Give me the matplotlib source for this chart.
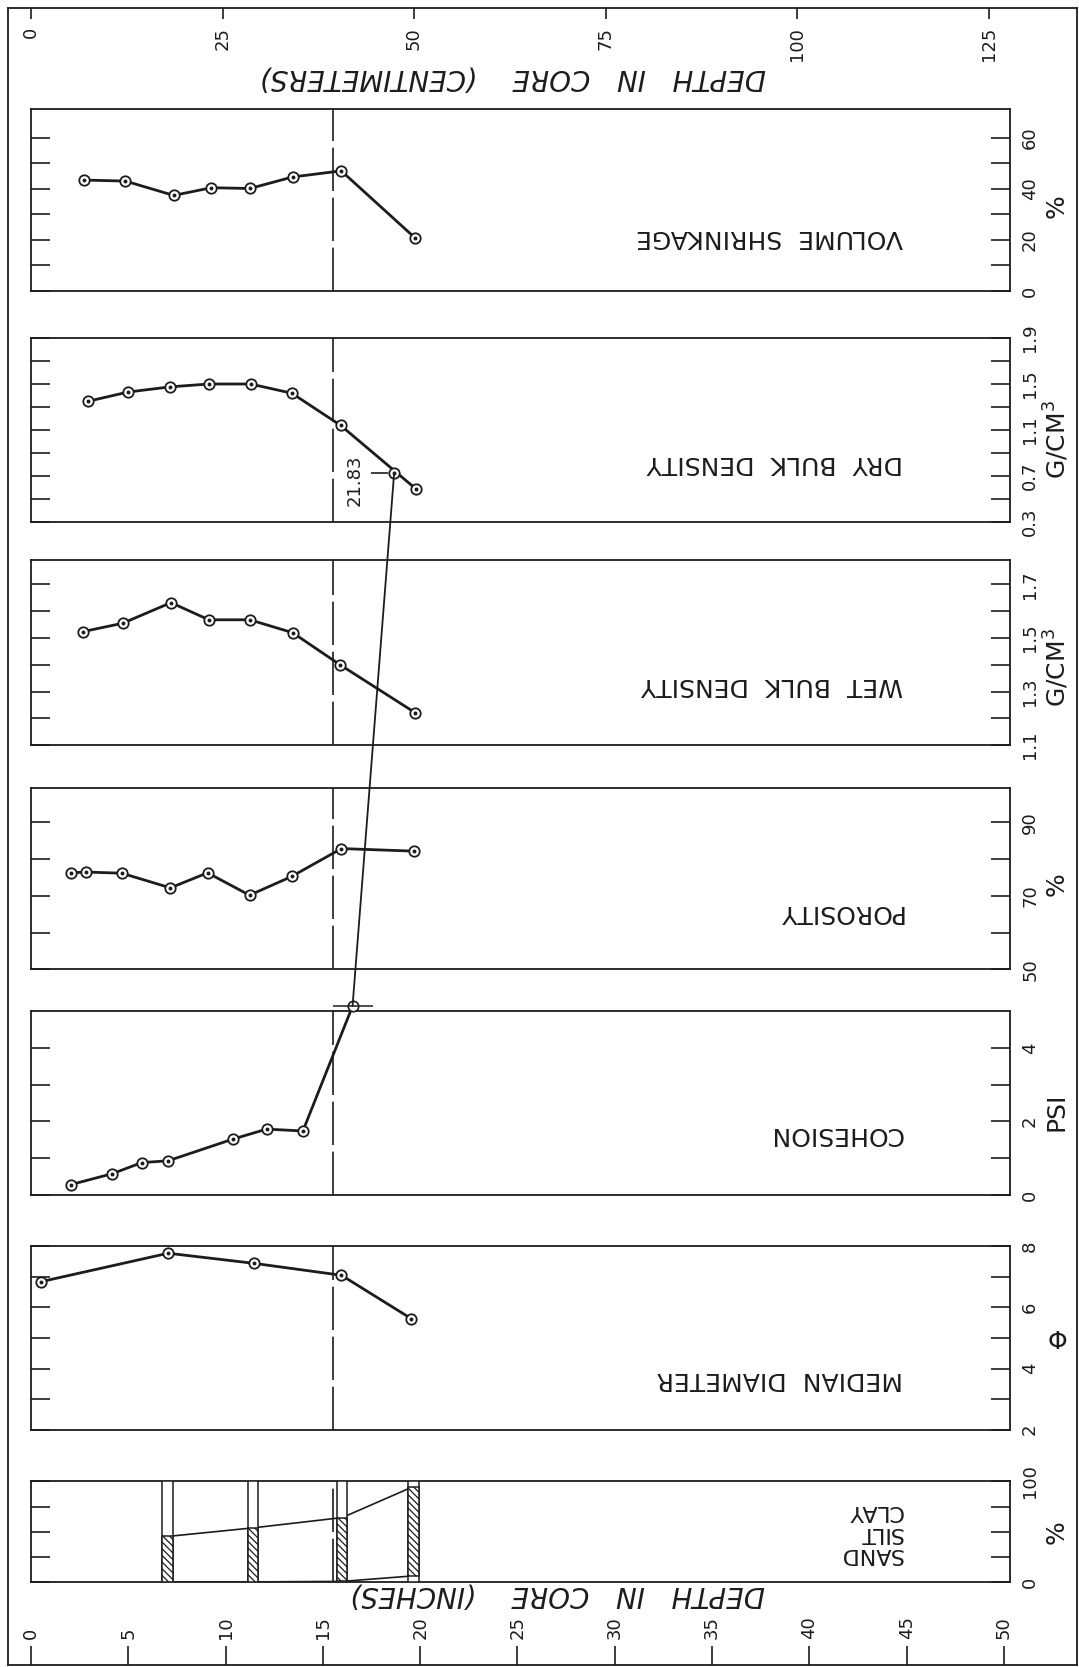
import matplotlib
matplotlib.use("Agg")
import numpy as np
import matplotlib.pyplot as plt
from matplotlib.patches import ConnectionPatch
from matplotlib.transforms import blended_transform_factory as blend

plt.rcParams['font.family'] = ['DejaVu Sans']
plt.rcParams['hatch.linewidth'] = 0.9
INK = '#1c1c1c'
plt.rcParams['text.color'] = INK

# ---- data (depth in inches) ----
vol_depth = [2.73, 4.85, 7.33, 9.27, 11.25, 13.44, 15.94, 19.74]
vol_pct = [43.4, 43.0, 37.4, 40.4, 40.1, 44.6, 47.0, 20.7]

dry_depth = [2.94, 4.98, 7.14, 9.14, 11.28, 13.40, 15.91, 19.76]
dry_gcc = [1.35, 1.43, 1.475, 1.50, 1.50, 1.42, 1.14, 0.59]

wet_depth = [2.68, 4.71, 7.19, 9.14, 11.24, 13.44, 15.86, 19.72]
wet_gcc = [1.524, 1.555, 1.632, 1.568, 1.568, 1.520, 1.401, 1.222]

por_depth = [2.03, 2.82, 4.66, 7.16, 9.07, 11.23, 13.39, 15.95, 19.67]
por_pct = [76.3, 76.5, 76.2, 72.2, 76.3, 70.2, 75.3, 82.9, 82.2]

coh_depth = [2.03, 4.18, 5.69, 7.05, 10.38, 12.11, 13.97]
coh_psi = [0.28, 0.58, 0.88, 0.93, 1.52, 1.79, 1.74]
# off-scale cohesion reading, carried up into the dry density panel
coh_big_depth = 18.66
coh_big_psi = 21.83
coh_break_depth = 16.52
coh_break_psi = 5.13
coh_big_on_dry = 0.73

med_depth = [0.52, 7.05, 11.45, 15.95, 19.54]
med_phi = [6.84, 7.77, 7.44, 7.05, 5.63]

grain_depth = [7.01, 11.42, 15.99, 19.65]
sand_pct = [0.0, 0.0, 0.5, 6.0]
silt_pct = [45.2, 53.8, 63.5, 88.9]

boundary_depth = 15.5

depth_in_ticks = list(range(0, 51, 5))
depth_cm_ticks = [0, 25, 50, 75, 100, 125]

vol_ticks = [0, 10, 20, 30, 40, 50, 60]
vol_labels = ['0', '', '20', '', '40', '', '60']
dry_ticks = [0.3, 0.5, 0.7, 0.9, 1.1, 1.3, 1.5, 1.7, 1.9]
dry_labels = ['0.3', '', '0.7', '', '1.1', '', '1.5', '', '1.9']
wet_ticks = [1.1, 1.2, 1.3, 1.4, 1.5, 1.6, 1.7]
wet_labels = ['1.1', '', '1.3', '', '1.5', '', '1.7']
por_ticks = [50, 60, 70, 80, 90]
por_labels = ['50', '', '70', '', '90']
coh_ticks = [0, 1, 2, 3, 4]
coh_labels = ['0', '', '2', '', '4']
med_ticks = [2, 3, 4, 5, 6, 7, 8]
med_labels = ['2', '', '4', '', '6', '', '8']
grain_ticks = [0, 25, 50, 75, 100]
grain_labels = ['0', '', '', '', '100']

# ---- layout ----
W, H = 1079, 1667
fig = plt.figure(figsize=(W / 100, H / 100), dpi=100)


def box(x0, top, x1, bot):
    return [x0 / W, 1 - bot / H, (x1 - x0) / W, (bot - top) / H]


# outer frame with the two depth scales
frame = fig.add_axes(box(7.6, 8, 1077, 1665), zorder=0)
frame.set_xlim(-1.2, 53.75)
frame.set_ylim(0, 1)
frame.set_yticks([])
frame.set_xticks(depth_in_ticks)
frame.tick_params(axis='x', direction='in', length=14, width=1.2, labelbottom=False, color=INK)
for s in frame.spines.values():
    s.set_linewidth(1.3)
    s.set_color(INK)
cm = frame.twiny()
cm.set_xlim(-1.2 * 2.54, 53.75 * 2.54)
cm.set_xticks(depth_cm_ticks)
cm.tick_params(axis='x', direction='in', length=8, width=1.2, labeltop=False, color=INK)
for s in cm.spines.values():
    s.set_visible(False)

for v in depth_in_ticks:
    frame.text(v, 0.0155, str(v), transform=blend(frame.transData, frame.transAxes),
               rotation=90, ha='center', va='bottom', fontsize=13)
for v in depth_cm_ticks:
    cm.text(v, 0.9885, str(v), transform=blend(cm.transData, cm.transAxes),
            rotation=90, ha='center', va='top', fontsize=13)

fig.text(513 / W, 1 - 78 / H, 'DEPTH   IN   CORE    (CENTIMETERS)', rotation=180,
         ha='center', va='center', fontsize=20, style='italic')
fig.text(557 / W, 1 - 1594 / H, 'DEPTH   IN   CORE    (INCHES)', rotation=180,
         ha='center', va='center', fontsize=20, style='italic')

panels = [
    ('vol', 109.5, 291, (0, 71), vol_ticks, vol_labels, '%', 0.47, 'VOLUME  SHRINKAGE', 0.30),
    ('dry', 338, 522, (0.3, 1.9), dry_ticks, dry_labels, 'G/CM$^3$', 0.45, 'DRY  BULK  DENSITY', 0.32),
    ('wet', 560.3, 745.2, (1.1, 1.79), wet_ticks, wet_labels, 'G/CM$^3$', 0.42, 'WET  BULK  DENSITY', 0.326),
    ('por', 787.6, 969.4, (50, 99.5), por_ticks, por_labels, '%', 0.47, 'POROSITY', 0.316),
    ('coh', 1011, 1195, (0, 5), coh_ticks, coh_labels, 'PSI', 0.45, 'COHESION', 0.33),
    ('med', 1246.2, 1429.7, (2, 8), med_ticks, med_labels, 'Φ', 0.48, 'MEDIAN  DIAMETER', 0.277),
    ('grain', 1481.4, 1581.9, (0, 100), grain_ticks, grain_labels, '%', 0.5, 'SAND\nSILT\nCLAY', 0.49),
]

axes = {}
for key, top, bot, ylim, ticks, labels, unit, unit_y, title, title_y in panels:
    ax = fig.add_axes(box(31, top, 1010, bot), zorder=1)
    ax.set_xlim(0, 50.3)
    ax.set_ylim(*ylim)
    ax.set_xticks([])
    ax.set_yticks(ticks)
    ax.set_yticklabels(labels)
    ax.tick_params(axis='y', direction='in', left=True, right=True, labelleft=False,
                   labelright=True, length=13.7, width=1.2, labelsize=13,
                   labelrotation=90, pad=8, color=INK, labelcolor=INK)
    plt.setp(ax.get_yticklabels(), va='center')
    for s in ax.spines.values():
        s.set_linewidth(1.3)
        s.set_color(INK)
    rot = 0 if unit == 'Φ' else 90
    ax.text(1.048, unit_y, unit, transform=ax.transAxes, rotation=rot,
            ha='center', va='center', fontsize=18, clip_on=False)
    if key == 'grain':
        ax.text(0.8907, title_y, title, transform=ax.transAxes, rotation=180,
                ha='right', va='center', fontsize=16, multialignment='left',
                linespacing=1.1)
    else:
        ax.text(0.8907, title_y, title, transform=ax.transAxes, rotation=180,
                ha='right', va='center', fontsize=18)
    ax.axvline(boundary_depth, color=INK, lw=1.2, dashes=(26, 4), zorder=2)
    axes[key] = ax


def series(ax, x, y):
    ax.plot(x, y, color=INK, lw=2.0, zorder=3, clip_on=False)
    ax.plot(x, y, 'o', ms=7.5, mfc='white', mec=INK, mew=1.3, zorder=4, clip_on=False)
    ax.plot(x, y, 'o', ms=1.8, color=INK, zorder=5, clip_on=False)


series(axes['vol'], vol_depth, vol_pct)
series(axes['dry'], dry_depth, dry_gcc)
series(axes['wet'], wet_depth, wet_gcc)
series(axes['por'], por_depth, por_pct)
series(axes['coh'], coh_depth, coh_psi)
series(axes['med'], med_depth, med_phi)

# cohesion leaves its scale: break mark, then a thin line up to the 21.83 reading
ac = axes['coh']
ac.plot([coh_depth[-1], coh_break_depth], [coh_psi[-1], coh_break_psi],
        color=INK, lw=2.0, zorder=3, clip_on=False)
ac.plot([coh_break_depth], [coh_break_psi], 'o', ms=7.5, mfc='white', mec=INK,
        mew=1.2, zorder=4, clip_on=False)
ac.hlines(coh_break_psi, coh_break_depth - 1.0, coh_break_depth + 1.05,
          color=INK, lw=1.1, zorder=5, clip_on=False)
ad = axes['dry']
con = ConnectionPatch(xyA=(coh_break_depth, coh_break_psi), coordsA='data', axesA=ac,
                      xyB=(coh_big_depth, coh_big_on_dry), coordsB='data', axesB=ad,
                      color=INK, lw=1.3, zorder=10)
con.set_annotation_clip(False)
fig.add_artist(con)
ad.plot([coh_big_depth], [coh_big_on_dry], 'o', ms=7.5, mfc='white', mec=INK,
        mew=1.3, zorder=6)
ad.plot([coh_big_depth], [coh_big_on_dry], 'o', ms=1.8, color=INK, zorder=7)
ad.hlines(coh_big_on_dry, coh_big_depth - 1.2, coh_big_depth - 0.3, color=INK, lw=1.2, zorder=5)
ad.text(coh_big_depth - 1.55, coh_big_on_dry - 0.07, f'{coh_big_psi:.2f}', rotation=90,
        ha='right', va='center', fontsize=13, zorder=6)

# sand / silt / clay columns
ag = axes['grain']
cum = np.array(sand_pct) + np.array(silt_pct)
ag.plot(grain_depth, sand_pct, color=INK, lw=1.2, zorder=2)
ag.plot(grain_depth, cum, color=INK, lw=1.2, zorder=2)
ag.bar(grain_depth, 100, width=0.53, color='white', edgecolor=INK, lw=1.1, zorder=3)
ag.bar(grain_depth, silt_pct, bottom=sand_pct, width=0.53, color='white',
       edgecolor=INK, lw=1.1, hatch='\\\\\\\\\\', zorder=4)

fig.savefig('out.png', dpi=100, facecolor='white')
